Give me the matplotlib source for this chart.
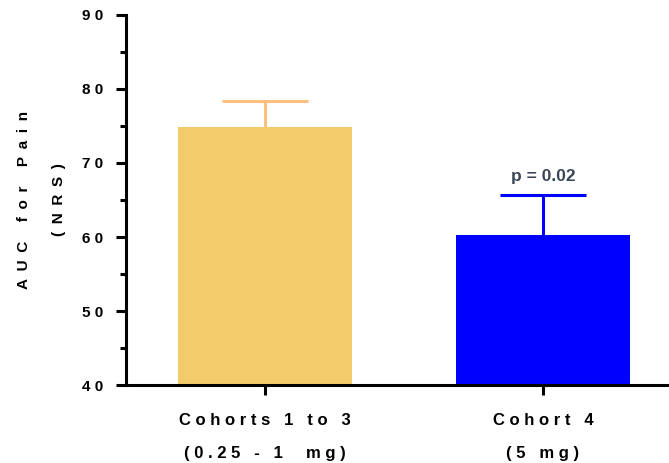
import numpy as np
import matplotlib as mpl
mpl.use('Agg')
import matplotlib.pyplot as plt
from matplotlib.ticker import MultipleLocator

groups = ['Cohorts 1 to 3\n(0.25 - 1  mg)', 'Cohort 4\n(5 mg)']
means = [74.9, 60.3]
sem = [3.5, 5.4]
bar_colors = ['#F2CC6B', '#0000FF']
err_colors = ['#FFBF80', '#0000FF']
p_text = 'p = 0.02'


def spaced(s, sep='\u2002'):
    # wide letter spacing for the axis texts
    return '\n'.join(sep.join(line) for line in s.split('\n'))


plt.rcParams['font.family'] = ['Liberation Sans', 'DejaVu Sans']
fig = plt.figure(figsize=(6.69, 4.63), dpi=100)
ax = fig.add_axes([0.188, 0.168, 0.812, 0.800])

x = np.arange(len(groups))
for i in x:
    ax.bar(i, means[i], width=0.626, color=bar_colors[i], bottom=0, zorder=2)
    eb = ax.errorbar(i, means[i], yerr=[[0], [sem[i]]], color=err_colors[i],
                     lw=2.2, capsize=31, capthick=2.2, fmt='none', zorder=1)
    # upper-only error bar: drop the cap sitting on the bar top
    for cap in eb[1]:
        if np.allclose(cap.get_ydata(), means[i]):
            cap.remove()

ax.text(x[1], means[1] + sem[1] + 1.4, p_text, ha='center', va='bottom',
        fontsize=12.5, fontweight='bold', color='#3A4656')

ax.set_xlim(-0.5, 1.453)
ax.set_ylim(40, 90)
ax.yaxis.set_major_locator(MultipleLocator(10))
ax.yaxis.set_minor_locator(MultipleLocator(5))
ax.set_yticks(np.arange(40, 91, 10))
ax.set_yticklabels([spaced(str(v), ' ') for v in range(40, 91, 10)],
                   fontsize=11, fontweight='bold')
ax.set_xticks(x)
ax.set_xticklabels([spaced(g, ' ') for g in groups], fontsize=12,
                   fontweight='bold', linespacing=2.5)
ax.set_ylabel(spaced('AUC for Pain\n(NRS)'), fontsize=11, fontweight='bold',
              linespacing=2.85, labelpad=12)

for s in ['top', 'right']:
    ax.spines[s].set_visible(False)
for s in ['left', 'bottom']:
    ax.spines[s].set_linewidth(2.2)
ax.tick_params(axis='y', which='major', length=7, width=2.2, pad=9)
ax.tick_params(axis='y', which='minor', length=4, width=2.2)
ax.tick_params(axis='x', length=7, width=2.2, pad=13)

fig.savefig('out.png', dpi=100)
